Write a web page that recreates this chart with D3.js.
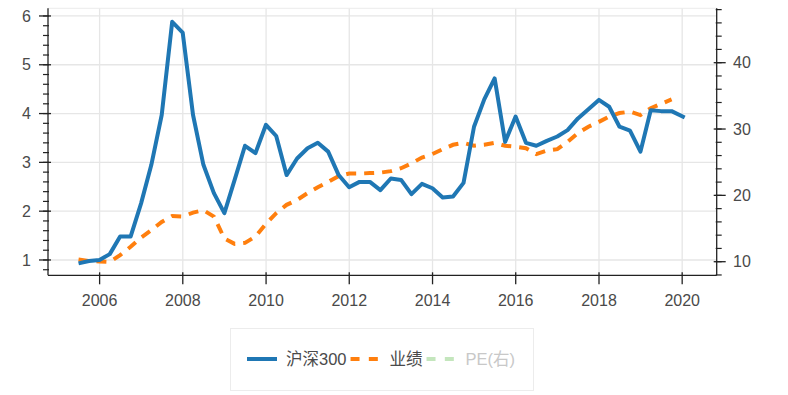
<!DOCTYPE html>
<html>
<head>
<meta charset="utf-8">
<script src="https://cdn.jsdelivr.net/npm/d3@7"></script>
<style>
  html, body { margin: 0; padding: 0; background: #fff; }
  svg { display: block; }
  text { font-family: "Liberation Sans", Arial, "Noto Sans CJK SC", sans-serif; }
</style>
</head>
<body>
<svg id="chart" width="788" height="395"></svg>
<script>
// ---------------- data ----------------
const hsDates = [
  "2005-06-30","2005-09-30","2005-12-31",
  "2006-03-31","2006-06-30","2006-09-30","2006-12-31",
  "2007-03-31","2007-06-30","2007-09-30","2007-12-31",
  "2008-03-31","2008-06-30","2008-09-30","2008-12-31",
  "2009-03-31","2009-06-30","2009-09-30","2009-12-31",
  "2010-03-31","2010-06-30","2010-09-30","2010-12-31",
  "2011-03-31","2011-06-30","2011-09-30","2011-12-31",
  "2012-03-31","2012-06-30","2012-09-30","2012-12-31",
  "2013-03-31","2013-06-30","2013-09-30","2013-12-31",
  "2014-03-31","2014-06-30","2014-09-30","2014-12-31",
  "2015-03-31","2015-06-30","2015-09-30","2015-12-31",
  "2016-03-31","2016-06-30","2016-09-30","2016-12-31",
  "2017-03-31","2017-06-30","2017-09-30","2017-12-31",
  "2018-03-31","2018-06-30","2018-09-30","2018-12-31",
  "2019-03-31","2019-06-30","2019-09-30","2020-01-23"
];
const hsValues = [
  0.93, 0.98, 1.00,
  1.12, 1.48, 1.48, 2.16,
  2.95, 3.97, 5.88, 5.66,
  3.97, 2.95, 2.37, 1.96,
  2.64, 3.34, 3.19, 3.77,
  3.54, 2.74, 3.08, 3.29,
  3.40, 3.22, 2.74, 2.49,
  2.60, 2.60, 2.43, 2.67,
  2.64, 2.35, 2.56, 2.47,
  2.28, 2.30, 2.58, 3.73,
  4.29, 4.72, 3.42, 3.94,
  3.40, 3.34, 3.44, 3.53,
  3.66, 3.90, 4.09, 4.28,
  4.14, 3.73, 3.65, 3.22,
  4.07, 4.05, 4.05, 3.92
];
const yjDates = hsDates.slice(0, 58);
const yjValues = [
  1.01, 0.98, 0.97,
  0.96, 1.10, 1.27, 1.46,
  1.61, 1.78, 1.90, 1.89,
  1.97, 2.02, 1.89, 1.44,
  1.33, 1.35, 1.48, 1.74,
  1.96, 2.13, 2.23, 2.37,
  2.49, 2.60, 2.72, 2.77,
  2.77, 2.78, 2.79, 2.82,
  2.88, 2.98, 3.10, 3.17,
  3.27, 3.36, 3.40, 3.34,
  3.36, 3.40, 3.34, 3.32,
  3.29, 3.17, 3.24, 3.27,
  3.42, 3.60, 3.73, 3.83,
  3.94, 4.01, 4.04, 3.97,
  4.11, 4.20, 4.29
];
const xTickYears = [2006, 2008, 2010, 2012, 2014, 2016, 2018, 2020];
const leftTicks = [1, 2, 3, 4, 5, 6];
const rightTicks = [10, 20, 30, 40];
const legendNames = ["沪深300", "业绩", "PE(右)"];

// ---------------- layout ----------------
const svg = d3.select("#chart");
const plot = { left: 48, right: 716.7, top: 8.3, bottom: 275.3 };

const parse = d3.utcParse("%Y-%m-%d");
const x = d3.scaleUtc()
  .domain([new Date(Date.UTC(2004, 9, 5)), new Date(Date.UTC(2020, 9, 30))])
  .range([plot.left, plot.right]);
const yL = d3.scaleLinear().domain([0.686, 6.157]).range([plot.bottom, plot.top]);
const yR = d3.scaleLinear().domain([7.95, 48.2]).range([plot.bottom, plot.top]);

const gridColor = "#e6e6e6";
const axisColor = "#222";
const textColor = "#4a4a4a";

// grid
const xTickDates = xTickYears.map(y => new Date(Date.UTC(y, 0, 1)));
svg.append("g").selectAll("line").data(xTickDates).join("line")
  .attr("x1", d => x(d)).attr("x2", d => x(d))
  .attr("y1", plot.top).attr("y2", plot.bottom)
  .attr("stroke", gridColor).attr("stroke-width", 1.3);
svg.append("g").selectAll("line").data(leftTicks).join("line")
  .attr("x1", plot.left).attr("x2", plot.right)
  .attr("y1", d => yL(d)).attr("y2", d => yL(d))
  .attr("stroke", gridColor).attr("stroke-width", 1.3);
svg.append("line")
  .attr("x1", plot.left).attr("x2", plot.right)
  .attr("y1", plot.top).attr("y2", plot.top)
  .attr("stroke", "#ececec").attr("stroke-width", 1);

// lines
const lineHS = d3.line().x((d, i) => x(parse(hsDates[i]))).y(d => yL(d));
const lineYJ = d3.line().x((d, i) => x(parse(yjDates[i]))).y(d => yL(d));

svg.append("path").datum(yjValues)
  .attr("d", lineYJ)
  .attr("fill", "none").attr("stroke", "#ff7f0e").attr("stroke-width", 4)
  .attr("stroke-dasharray", "10,8");
svg.append("path").datum(hsValues)
  .attr("d", lineHS)
  .attr("fill", "none").attr("stroke", "#1f77b4").attr("stroke-width", 4)
  .attr("stroke-linejoin", "round");

// axes
function minorTicks(scale, step) {
  const [a, b] = scale.domain();
  const out = [];
  for (let v = Math.ceil(a / step) * step; v <= b + 1e-9; v += step) out.push(+v.toFixed(6));
  return out;
}

// bottom axis
const gx = svg.append("g");
gx.append("line").attr("x1", plot.left).attr("x2", plot.right)
  .attr("y1", plot.bottom).attr("y2", plot.bottom)
  .attr("stroke", axisColor).attr("stroke-width", 1.3);
gx.selectAll(".tk").data(xTickDates).join("line")
  .attr("x1", d => x(d)).attr("x2", d => x(d))
  .attr("y1", plot.bottom - 3).attr("y2", plot.bottom + 9)
  .attr("stroke", axisColor).attr("stroke-width", 1.3);
gx.selectAll("text").data(xTickYears).join("text")
  .attr("x", (d, i) => x(xTickDates[i])).attr("y", 306)
  .attr("text-anchor", "middle").attr("fill", textColor)
  .attr("font-size", 16).text(d => d);

// left axis
const gl = svg.append("g");
gl.append("line").attr("x1", plot.left).attr("x2", plot.left)
  .attr("y1", plot.top).attr("y2", plot.bottom)
  .attr("stroke", axisColor).attr("stroke-width", 1.3);
gl.selectAll(".mn").data(minorTicks(yL, 0.2)).join("line")
  .attr("x1", plot.left - 5).attr("x2", plot.left + 1)
  .attr("y1", d => yL(d)).attr("y2", d => yL(d))
  .attr("stroke", axisColor).attr("stroke-width", 1.2);
gl.selectAll(".mj").data(leftTicks).join("line")
  .attr("x1", plot.left - 9).attr("x2", plot.left + 3)
  .attr("y1", d => yL(d)).attr("y2", d => yL(d))
  .attr("stroke", axisColor).attr("stroke-width", 1.3);
gl.selectAll("text").data(leftTicks).join("text")
  .attr("x", 31).attr("y", d => yL(d)).attr("dy", "0.35em")
  .attr("text-anchor", "end").attr("fill", textColor)
  .attr("font-size", 16).text(d => d);

// right axis
const gr = svg.append("g");
gr.append("line").attr("x1", plot.right).attr("x2", plot.right)
  .attr("y1", plot.top).attr("y2", plot.bottom)
  .attr("stroke", axisColor).attr("stroke-width", 1.3);
gr.selectAll(".mn").data(minorTicks(yR, 2)).join("line")
  .attr("x1", plot.right - 1).attr("x2", plot.right + 5)
  .attr("y1", d => yR(d)).attr("y2", d => yR(d))
  .attr("stroke", axisColor).attr("stroke-width", 1.2);
gr.selectAll(".mj").data(rightTicks).join("line")
  .attr("x1", plot.right - 3).attr("x2", plot.right + 9)
  .attr("y1", d => yR(d)).attr("y2", d => yR(d))
  .attr("stroke", axisColor).attr("stroke-width", 1.3);
gr.selectAll("text").data(rightTicks).join("text")
  .attr("x", 733).attr("y", d => yR(d)).attr("dy", "0.35em")
  .attr("text-anchor", "start").attr("fill", textColor)
  .attr("font-size", 16).text(d => d);

// legend
const lg = svg.append("g");
lg.append("rect").attr("x", 230.5).attr("y", 328.5).attr("width", 303).attr("height", 62)
  .attr("fill", "#fff").attr("stroke", "#ececec").attr("stroke-width", 1);
const legendStyles = [
  { color: "#1f77b4", dash: null, text: textColor },
  { color: "#ff7f0e", dash: "9,9.3", text: textColor },
  { color: "#c4e6bd", dash: "9,9.3", text: "#c8c8c8" }
];
let cx = 247;
const ly = 359;
legendNames.forEach((name, i) => {
  const st = legendStyles[i];
  const ln = lg.append("line").attr("x1", cx).attr("x2", cx + 30)
    .attr("y1", ly).attr("y2", ly)
    .attr("stroke", st.color).attr("stroke-width", 4);
  if (st.dash) ln.attr("stroke-dasharray", st.dash);
  const t = lg.append("text").attr("x", cx + 39).attr("y", ly).attr("dy", "0.35em")
    .attr("fill", st.text).attr("font-size", 16.5).text(name);
  cx = cx + 39 + t.node().getComputedTextLength() + 4;
});
</script>
</body>
</html>
